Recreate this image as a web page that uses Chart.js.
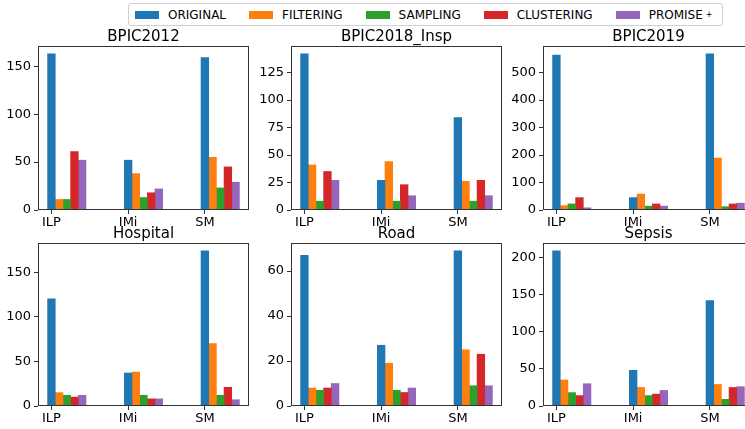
<!DOCTYPE html>
<html>
<head>
<meta charset="utf-8">
<script src="https://cdn.jsdelivr.net/npm/chart.js@4"></script>
<style>
html,body{margin:0;padding:0;background:#fff;overflow:hidden}
body{width:745px;height:429px;position:relative;font-family:"DejaVu Sans",sans-serif}
.panel{position:absolute}
#legend{position:absolute;left:128px;top:3px;width:593px;height:21px;border:1px solid #d0d0d0;border-radius:3px;
  display:flex;align-items:center;font-size:12px;color:#000;box-sizing:content-box}
#legend .item{display:flex;align-items:center;margin-left:6px;margin-right:17px}
#legend .sw{width:24px;height:8px;margin-right:9px}
#legend sup{font-size:8px;vertical-align:6px;margin-left:3px}
</style>
</head>
<body>
<div id="legend"></div>
<script>
const methods = ["ILP", "IMi", "SM"]
const seriesNames = ["ORIGINAL", "FILTERING", "SAMPLING", "CLUSTERING", "PROMISE"]
const colors = ["#1f77b4", "#ff7f0e", "#2ca02c", "#d62728", "#9467bd"]

// rows: ORIGINAL, FILTERING, SAMPLING, CLUSTERING, PROMISE+ ; columns: ILP, IMi, SM
const bpic2012 = [[163,52,159],[11,38,55],[11,13,23],[61,18,45],[52,22,29]]
const bpic2018Insp = [[142,27,84],[41,44,26],[8,8,8],[35,23,27],[27,13,13]]
const bpic2019 = [[563,45,568],[16,58,189],[22,14,12],[45,22,22],[8,14,25]]
const hospital = [[120,37,174],[15,38,70],[12,12,12],[10,8,21],[12,8,7]]
const road = [[67,27,69],[8,19,25],[7,7,9],[8,6,23],[10,8,9]]
const sepsis = [[209,48,142],[35,25,29],[18,14,9],[14,16,25],[30,21,26]]

const panels = [
  {title:"BPIC2012", values:bpic2012, step:50, left:38, top:46, h:164},
  {title:"BPIC2018_Insp", values:bpic2018Insp, step:25, left:291, top:46, h:164},
  {title:"BPIC2019", values:bpic2019, step:100, left:543, top:46, h:164},
  {title:"Hospital", values:hospital, step:50, left:38, top:243, h:163},
  {title:"Road", values:road, step:20, left:291, top:243, h:163},
  {title:"Sepsis", values:sepsis, step:50, left:543, top:243, h:163}
]

// legend
const lg = document.getElementById("legend")
seriesNames.forEach((n, k) => {
  const it = document.createElement("div")
  it.className = "item"
  it.innerHTML = '<span class="sw" style="background:' + colors[k] + '"></span>' + n + (k === 4 ? "<sup>+</sup>" : "")
  lg.appendChild(it)
})

const frame = {
  id: "frame",
  afterDraw(chart) {
    const a = chart.chartArea, c = chart.ctx
    c.save()
    c.strokeStyle = "#333"
    c.lineWidth = 1
    c.strokeRect(Math.round(a.left) + 0.5, Math.round(a.top) + 0.5, Math.round(a.right - a.left) - 1, Math.round(a.bottom - a.top) - 1)
    c.restore()
  }
}

const yW = 38, titleH = 28, xH = 22, plotW = 211

panels.forEach(p => {
  const div = document.createElement("div")
  div.className = "panel"
  div.style.left = (p.left - yW) + "px"
  div.style.top = (p.top - titleH) + "px"
  div.style.width = (yW + plotW + 2) + "px"
  div.style.height = (titleH + p.h + xH) + "px"
  const cv = document.createElement("canvas")
  div.appendChild(cv)
  document.body.appendChild(div)

  const ymax = Math.max(...p.values.flat()) * 1.05

  new Chart(cv, {
    type: "bar",
    data: {
      datasets: seriesNames.map((n, k) => ({
        label: n,
        data: methods.map((m, i) => ({x: i + k * 0.1, y: p.values[k][i]})),
        backgroundColor: colors[k],
        grouped: false,
        barPercentage: 1,
        categoryPercentage: 1
      }))
    },
    options: {
      responsive: true,
      maintainAspectRatio: false,
      animation: false,
      layout: {padding: {left: 0, right: 2, top: 0, bottom: 0}},
      plugins: {
        legend: {display: false},
        tooltip: {enabled: false},
        title: {
          display: true,
          fullSize: false,
          text: p.title,
          color: "#000",
          font: {family: "DejaVu Sans", size: 15, weight: "normal", lineHeight: 1.2},
          padding: {top: 10, bottom: 0}
        }
      },
      scales: {
        x: {
          type: "linear",
          min: -0.175,
          max: 2.575,
          offset: false,
          grid: {offset: false, drawOnChartArea: false, tickLength: 4, color: "#333"},
          border: {display: false},
          afterBuildTicks: s => { s.ticks = methods.map((m, i) => ({value: i})) },
          afterFit: s => { s.height = xH },
          ticks: {
            autoSkip: false, maxRotation: 0, padding: 1,
            color: "#000",
            font: {family: "DejaVu Sans", size: 13},
            callback: v => methods[v]
          }
        },
        y: {
          min: 0,
          max: ymax,
          grid: {drawOnChartArea: false, tickLength: 4, color: "#333"},
          border: {display: false},
          afterFit: s => { s.width = yW },
          afterBuildTicks: s => {
            const t = []
            for (let v = 0; v <= ymax; v += p.step) t.push({value: v})
            s.ticks = t
          },
          ticks: {
            padding: 3,
            color: "#000",
            font: {family: "DejaVu Sans", size: 13}
          }
        }
      }
    },
    plugins: [frame]
  })
})
</script>
</body>
</html>
